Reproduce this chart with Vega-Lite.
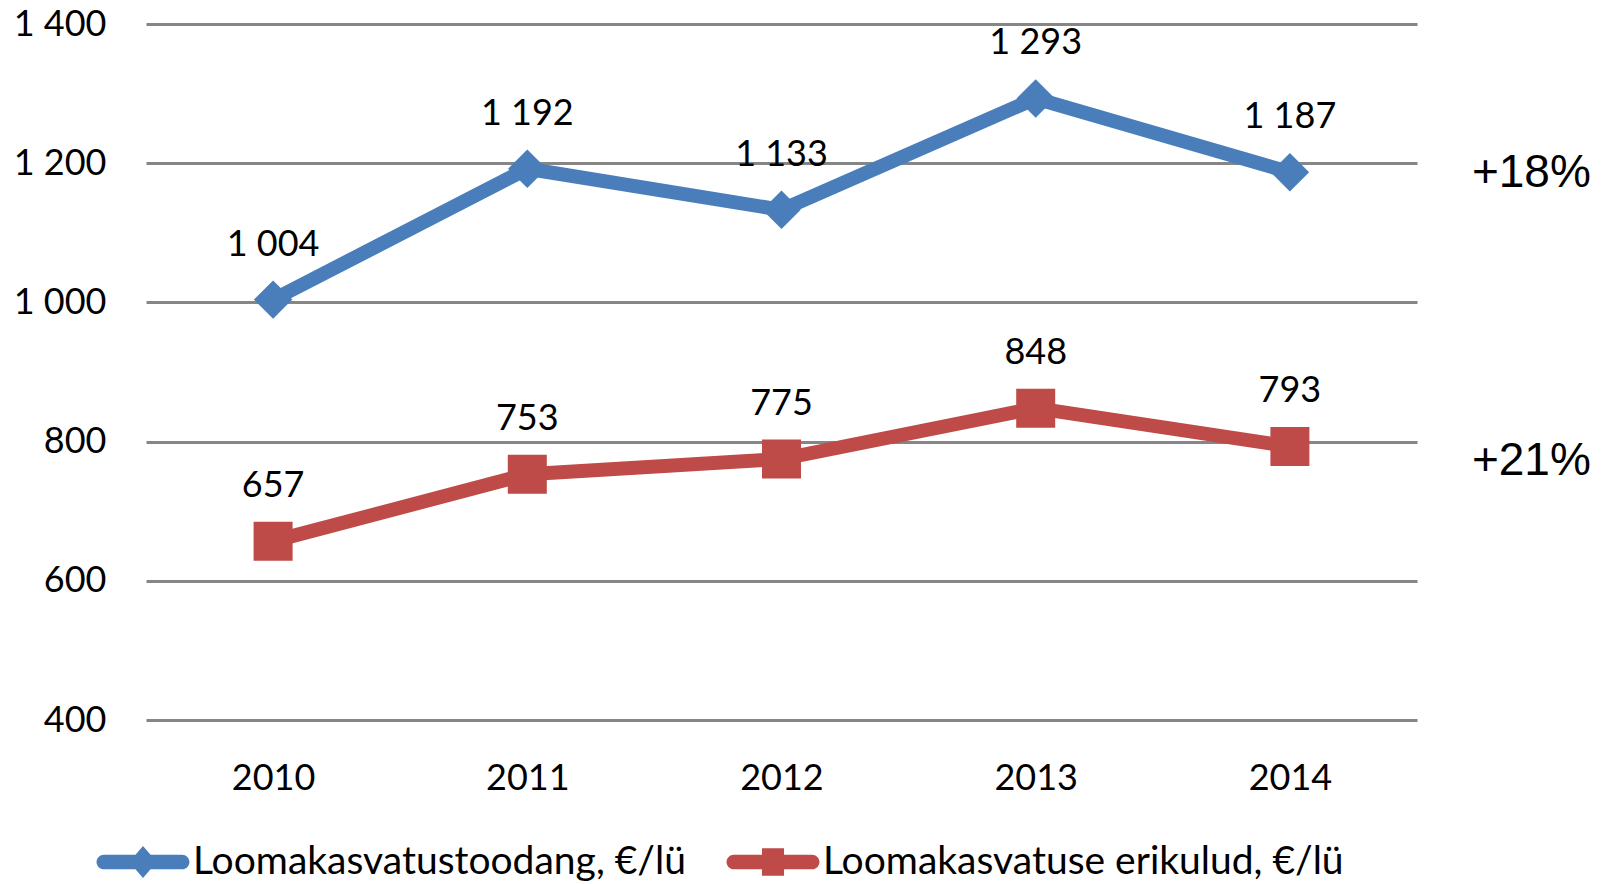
{
  "$schema": "https://vega.github.io/schema/vega-lite/v6.json",
  "width": 1271,
  "height": 696,
  "autosize": {"type": "none"},
  "padding": {"left": 146, "top": 24, "right": 184, "bottom": 164},
  "config": {
    "locale": {"number": {"decimal": ",", "thousands": " ", "grouping": [3], "currency": ["", " €"]}},
    "view": {"stroke": null},
    "font": "Lato",
    "axisY": {"grid": true, "gridColor": "#868686", "gridWidth": 3, "domain": false, "ticks": false, "labelFontSize": 36, "labelColor": "#000000", "labelPadding": 40, "labelFont": "Lato"},
    "axisX": {"grid": false, "domain": false, "ticks": false, "labelFontSize": 36, "labelColor": "#000000", "labelPadding": 41, "labelAngle": 0, "labelFont": "Lato"}
  },
  "datasets": {
    "main": [
      {"year": "2010", "series": "Loomakasvatustoodang, €/lü", "value": 1004},
      {"year": "2011", "series": "Loomakasvatustoodang, €/lü", "value": 1192},
      {"year": "2012", "series": "Loomakasvatustoodang, €/lü", "value": 1133},
      {"year": "2013", "series": "Loomakasvatustoodang, €/lü", "value": 1293},
      {"year": "2014", "series": "Loomakasvatustoodang, €/lü", "value": 1187},
      {"year": "2010", "series": "Loomakasvatuse erikulud,  €/lü", "value": 657},
      {"year": "2011", "series": "Loomakasvatuse erikulud,  €/lü", "value": 753},
      {"year": "2012", "series": "Loomakasvatuse erikulud,  €/lü", "value": 775},
      {"year": "2013", "series": "Loomakasvatuse erikulud,  €/lü", "value": 848},
      {"year": "2014", "series": "Loomakasvatuse erikulud,  €/lü", "value": 793}
    ],
    "notes": [
      {"year": "2014", "note": "+18%", "value": 1186},
      {"year": "2014", "note": "+21%", "value": 772}
    ]
  },
  "data": {"name": "main"},
  "encoding": {
    "x": {"field": "year", "type": "ordinal", "scale": {"type": "point", "padding": 0.5}, "axis": {"title": null}},
    "y": {"field": "value", "type": "quantitative", "scale": {"domain": [400, 1400], "nice": false, "zero": false}, "axis": {"title": null, "values": [400, 600, 800, 1000, 1200, 1400], "format": ",d"}}
  },
  "layer": [
    {
      "transform": [{"filter": "datum.series === 'Loomakasvatustoodang, €/lü'"}],
      "mark": {"type": "line", "strokeWidth": 14, "strokeJoin": "round", "color": "#4A7EBB"}
    },
    {
      "transform": [{"filter": "datum.series !== 'Loomakasvatustoodang, €/lü'"}],
      "mark": {"type": "line", "strokeWidth": 14, "strokeJoin": "round", "color": "#BE4B48"}
    },
    {
      "transform": [{"filter": "datum.series === 'Loomakasvatustoodang, €/lü'"}],
      "mark": {"type": "point", "shape": "diamond", "filled": true, "size": 1480, "opacity": 1, "color": "#4A7EBB"}
    },
    {
      "transform": [{"filter": "datum.series !== 'Loomakasvatustoodang, €/lü'"}],
      "mark": {"type": "point", "shape": "square", "filled": true, "size": 1521, "opacity": 1, "color": "#BE4B48"}
    },
    {
      "mark": {"type": "point", "filled": true},
      "encoding": {
        "opacity": {"value": 0},
        "color": {"field": "series", "type": "nominal", "scale": {"domain": ["Loomakasvatustoodang, €/lü", "Loomakasvatuse erikulud,  €/lü"], "range": ["#4A7EBB", "#BE4B48"]}, "legend": {"orient": "none", "legendX": -49, "legendY": 792, "direction": "horizontal", "title": null, "labelFontSize": 39, "labelFont": "Lato", "labelColor": "#000000", "labelLimit": 0, "symbolSize": 8464, "symbolOpacity": 1, "symbolStrokeWidth": 0, "labelOffset": 4, "columnPadding": 40, "padding": 0,
          "encode": {"symbols": {"update": {"fill": {"scale": "color", "field": "value"}, "shape": {"scale": "shape", "field": "value"}, "opacity": {"value": 1}, "fillOpacity": {"value": 1}, "strokeWidth": {"value": 0}}}}}},
        "shape": {"field": "series", "type": "nominal", "scale": {"domain": ["Loomakasvatustoodang, €/lü", "Loomakasvatuse erikulud,  €/lü"], "range": ["M-0.85,-0.16H0.85A0.16,0.16 0 0 1 0.85,0.16H-0.85A0.16,0.16 0 0 1 -0.85,-0.16Z M0,-0.35L0.3,0L0,0.35L-0.3,0Z", "M-0.85,-0.16H0.85A0.16,0.16 0 0 1 0.85,0.16H-0.85A0.16,0.16 0 0 1 -0.85,-0.16Z M-0.24,-0.3H0.24V0.3H-0.24Z"]}}
      }
    },
    {
      "mark": {"type": "text", "dy": -55, "fontSize": 36, "font": "Lato", "color": "#000000", "baseline": "middle"},
      "encoding": {"text": {"field": "value", "type": "quantitative", "format": ",d"}}
    },
    {
      "data": {"name": "notes"},
      "mark": {"type": "text", "dx": 182, "align": "left", "baseline": "middle", "fontSize": 46, "font": "Liberation Sans", "color": "#000000"},
      "encoding": {"text": {"field": "note", "type": "nominal"}}
    }
  ]
}
